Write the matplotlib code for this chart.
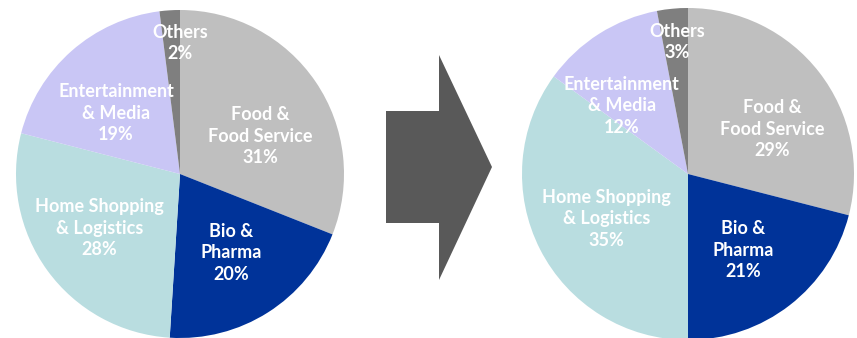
import matplotlib
matplotlib.use("Agg")
import matplotlib.pyplot as plt
from matplotlib.patches import Polygon

# Segment shares before and after
categories = ["Food &\nFood Service", "Bio &\nPharma", "Home Shopping\n& Logistics",
              "Entertainment\n& Media", "Others"]
shares_before = [31, 20, 28, 19, 2]
shares_after = [29, 21, 35, 12, 3]

colors = ["#BFBFBF", "#003399", "#B9DDE0", "#C9C6F5", "#7F7F7F"]

# Label positions in pie-radius units (x, y), per segment
label_pos_before = [(0.49, 0.23), (0.31, -0.48), (-0.49, -0.33), (-0.39, 0.37), (0.0, 0.80)]
label_pos_after = [(0.51, 0.27), (0.33, -0.46), (-0.49, -0.27), (-0.40, 0.41), (-0.066, 0.795)]

W, H = 857, 338
fig = plt.figure(figsize=(W / 100, H / 100), dpi=100)

font = dict(family=["Lato", "DejaVu Sans"], weight="bold", size=13, color="white")


def draw_pie(cx, cy, r, values, positions):
    ax = fig.add_axes([(cx - r) / W, (H - cy - r) / H, 2 * r / W, 2 * r / H])
    ax.pie(values, colors=colors, startangle=90, counterclock=False,
           radius=1, wedgeprops=dict(linewidth=0))
    ax.set_xlim(-1, 1)
    ax.set_ylim(-1, 1)
    ax.axis("off")
    for name, val, (x, y) in zip(categories, values, positions):
        ax.text(x, y, f"{name}\n{val}%", ha="center", va="center",
                linespacing=1.32, **font)
    return ax


draw_pie(180, 174, 164, shares_before, label_pos_before)
draw_pie(688, 174, 166, shares_after, label_pos_after)

# Block arrow between the two pies (pixel coordinates)
arrow_ax = fig.add_axes([0, 0, 1, 1], zorder=-1)
arrow_ax.set_xlim(0, W)
arrow_ax.set_ylim(H, 0)
arrow_ax.axis("off")
arrow = Polygon([(386, 111), (439, 111), (439, 55), (492, 167),
                 (439, 280), (439, 223), (386, 223)],
                closed=True, facecolor="#595959", edgecolor="none")
arrow_ax.add_patch(arrow)

fig.savefig("out.png", dpi=100, facecolor="white")
